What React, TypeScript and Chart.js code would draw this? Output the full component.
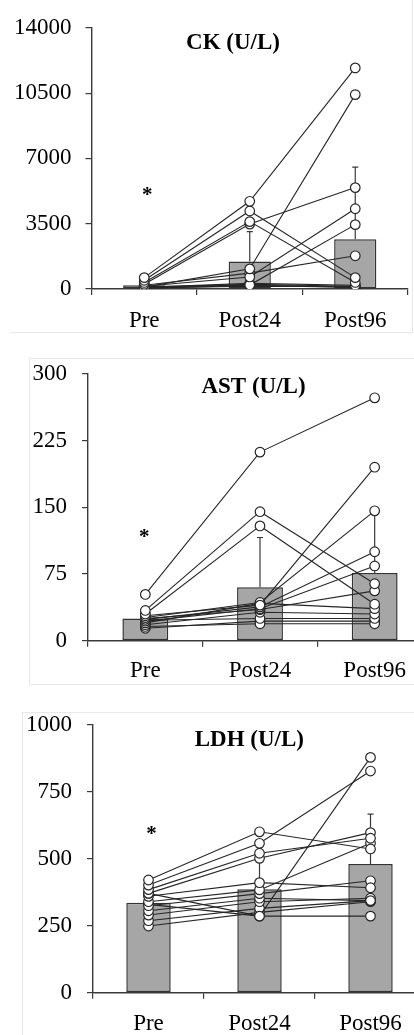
import React, { useEffect, useRef } from "react";
import { Chart, registerables } from "chart.js";

Chart.register(...registerables);

const categories = ["Pre", "Post24", "Post96"];

// ---- CK (U/L) ----
const ckTicks = [0, 3500, 7000, 10500, 14000];
const ckMeans = [200, 1470, 2660];
const ckErrors = [150, 1610, 3870];
const ckSubjects: number[][] = [
  [610, 4700, 11850],
  [470, 4180, 610],
  [350, 3610, 350],
  [250, 3480, 5435],
  [100, 1080, 10420],
  [150, 645, 4300],
  [120, 210, 3450],
  [200, 850, 1780],
  [90, 300, 200],
  [80, 250, 150],
  [70, 200, 100],
  [60, 180, 90],
  [50, 150, 120],
];
const ckStar = 5300;

// ---- AST (U/L) ----
const astTicks = [0, 75, 150, 225, 300];
const astMeans = [25, 60, 76];
const astErrors = [9, 56, 70];
const astSubjects: number[][] = [
  [52, 212, 273],
  [34, 145, 64],
  [30, 129, 41],
  [28, 40, 195],
  [26, 43, 146],
  [24, 38, 100],
  [22, 36, 84],
  [25, 35, 56],
  [20, 42, 36],
  [18, 32, 30],
  [23, 25, 25],
  [16, 19, 19],
  [14, 22, 22],
];
const astStar = 122;

// ---- LDH (U/L) ----
const ldhTicks = [0, 250, 500, 750, 1000];
const ldhMeans = [336, 386, 481];
const ldhErrors = [45, 115, 186];
const ldhSubjects: number[][] = [
  [421, 601, 537],
  [402, 558, 828],
  [385, 521, 577],
  [371, 502, 598],
  [371, 286, 879],
  [360, 411, 392],
  [340, 384, 558],
  [325, 370, 418],
  [306, 353, 344],
  [290, 340, 353],
  [269, 315, 344],
  [249, 300, 340],
  [330, 286, 286],
];
const ldhStar = 610;

const FONT = "'Liberation Serif', 'Times New Roman', serif";
const AXIS = "#3a3a3a";
const LINE = "#262626";

const annotate = {
  id: "annotate",
  afterDatasetDraw(chart: any, args: any, opts: any) {
    if (args.index !== 0) return;
    const meta = chart.getDatasetMeta(0);
    const y = chart.scales.y;
    const ctx = chart.ctx;
    ctx.save();
    ctx.strokeStyle = AXIS;
    ctx.lineWidth = 1.2;
    meta.data.forEach((bar: any, i: number) => {
      const top = y.getPixelForValue(opts.means[i] + opts.errors[i]);
      const x = bar.x;
      ctx.beginPath();
      ctx.moveTo(x, bar.y);
      ctx.lineTo(x, top);
      ctx.moveTo(x - 3, top);
      ctx.lineTo(x + 3, top);
      ctx.stroke();
    });
    ctx.restore();
  },
  afterDraw(chart: any, _args: any, opts: any) {
    const ctx = chart.ctx;
    const area = chart.chartArea;
    ctx.save();
    ctx.fillStyle = "#000";
    ctx.font = `bold 23px ${FONT}`;
    ctx.textAlign = "center";
    ctx.textBaseline = "middle";
    ctx.fillText(opts.title, opts.titleX, area.top + opts.titleDy);
    ctx.font = `bold 21px ${FONT}`;
    const sx = chart.scales.x.getPixelForValue(0) + opts.starDx;
    const sy = chart.scales.y.getPixelForValue(opts.star) + 5;
    ctx.fillText("*", sx, sy);
    ctx.restore();
  },
};

type PanelProps = {
  top: number;
  height: number;
  canvasW: number;
  yWidth: number;
  padTop: number;
  padRight: number;
  xHeight: number;
  xPad: number;
  yPad: number;
  ticks: number[];
  means: number[];
  errors: number[];
  subjects: number[][];
  title: string;
  titleX: number;
  titleDy: number;
  star: number;
  starDx: number;
};

function Panel(p: PanelProps) {
  const ref = useRef<HTMLCanvasElement | null>(null);
  useEffect(() => {
    if (!ref.current) return;
    const datasets: any[] = [
      {
        type: "bar",
        data: p.means,
        backgroundColor: "#a6a6a6",
        borderColor: "#333333",
        borderWidth: 1.5,
        borderSkipped: false,
        barPercentage: 0.4,
        categoryPercentage: 1,
        order: 1,
      },
      ...p.subjects.map((s) => ({
        type: "line",
        data: s,
        borderColor: LINE,
        borderWidth: 1.1,
        pointRadius: 4.8,
        pointBackgroundColor: "#ffffff",
        pointBorderColor: LINE,
        pointBorderWidth: 1.2,
        tension: 0,
        fill: false,
        order: 0,
      })),
    ];
    const chart = new Chart(ref.current, {
      type: "bar",
      data: { labels: categories, datasets },
      plugins: [annotate as any],
      options: {
        responsive: false,
        animation: false,
        events: [],
        layout: { padding: { left: 0, top: p.padTop, right: p.padRight, bottom: 0 } },
        plugins: {
          legend: { display: false },
          tooltip: { enabled: false },
          annotate: {
            means: p.means,
            errors: p.errors,
            title: p.title,
            titleX: p.titleX,
            titleDy: p.titleDy,
            star: p.star,
            starDx: p.starDx,
          },
        } as any,
        scales: {
          x: {
            type: "category",
            offset: true,
            grid: {
              display: true,
              offset: true,
              drawOnChartArea: false,
              drawTicks: true,
              tickLength: 6,
              color: AXIS,
              lineWidth: 1.2,
            },
            border: { display: true, color: AXIS, width: 1.4 },
            ticks: {
              color: "#000",
              font: { family: FONT, size: 23 },
              padding: p.xPad,
              maxRotation: 0,
              autoSkip: false,
            },
            afterFit: (s: any) => {
              s.height = p.xHeight;
            },
          },
          y: {
            type: "linear",
            min: p.ticks[0],
            max: p.ticks[p.ticks.length - 1],
            afterBuildTicks: (s: any) => {
              s.ticks = p.ticks.map((v) => ({ value: v }));
            },
            grid: {
              display: true,
              drawOnChartArea: false,
              drawTicks: true,
              tickLength: 6,
              color: AXIS,
              lineWidth: 1.2,
            },
            border: { display: true, color: AXIS, width: 1.4 },
            ticks: {
              color: "#000",
              font: { family: FONT, size: 23 },
              padding: p.yPad,
              callback: (v: any) => String(v),
            },
            afterFit: (s: any) => {
              s.width = p.yWidth;
            },
          },
        } as any,
      },
    });
    return () => chart.destroy();
  }, []);
  return (
    <div
      style={{
        position: "absolute",
        left: 0,
        top: p.top,
        width: 414,
        height: p.height,
        overflow: "hidden",
      }}
    >
      <canvas ref={ref} width={p.canvasW} height={p.height} style={{ display: "block" }} />
    </div>
  );
}

const frame = "#e8e8e8";

export default function App() {
  return (
    <div style={{ position: "absolute", left: 0, top: 0, width: 414, height: 1035, background: "#fff", overflow: "hidden" }}>
      {/* faint panel frames */}
      <div style={{ position: "absolute", left: 10, top: -2, width: 402, height: 334, borderRight: `1px solid ${frame}`, borderBottom: `1px solid ${frame}` }} />
      <div style={{ position: "absolute", left: 29, top: 358, width: 400, height: 325, borderLeft: `1px solid ${frame}`, borderTop: `1px solid ${frame}`, borderBottom: `1px solid ${frame}` }} />
      <div style={{ position: "absolute", left: 22, top: 712, width: 400, height: 330, borderLeft: `1px solid ${frame}`, borderTop: `1px solid ${frame}` }} />
      <Panel
        top={0}
        height={345}
        canvasW={414}
        yWidth={91.5}
        padTop={22}
        padRight={3}
        xHeight={56}
        xPad={12}
        yPad={14}
        ticks={ckTicks}
        means={ckMeans}
        errors={ckErrors}
        subjects={ckSubjects}
        title="CK (U/L)"
        titleX={233}
        titleDy={15.5}
        star={ckStar}
        starDx={3}
      />
      <Panel
        top={345}
        height={345}
        canvasW={440}
        yWidth={88}
        padTop={27.3}
        padRight={8}
        xHeight={49.3}
        xPad={10}
        yPad={15}
        ticks={astTicks}
        means={astMeans}
        errors={astErrors}
        subjects={astSubjects}
        title="AST (U/L)"
        titleX={253.5}
        titleDy={13}
        star={astStar}
        starDx={-1}
      />
      <Panel
        top={690}
        height={345}
        canvasW={440}
        yWidth={93}
        padTop={35}
        padRight={14}
        xHeight={42.3}
        xPad={11}
        yPad={15}
        ticks={ldhTicks}
        means={ldhMeans}
        errors={ldhErrors}
        subjects={ldhSubjects}
        title="LDH (U/L)"
        titleX={249.3}
        titleDy={15}
        star={ldhStar}
        starDx={3}
      />
    </div>
  );
}
